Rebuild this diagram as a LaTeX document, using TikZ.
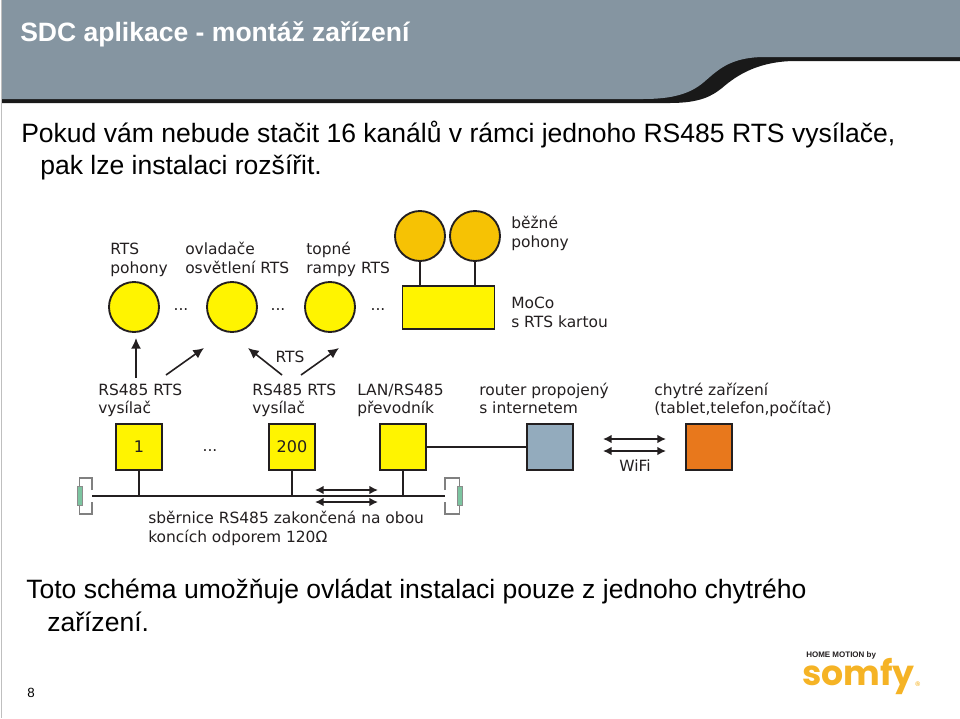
\documentclass[tikz,border=0pt]{standalone}
\usepackage{fontspec}
\setmainfont{Liberation Sans}
\newfontfamily\diafont{DejaVu Sans}
\newfontfamily\logofont{Poppins}
\usetikzlibrary{arrows.meta}
\definecolor{headgray}{HTML}{8595A1}
\definecolor{yel}{HTML}{FFF400}
\definecolor{amber}{HTML}{F6C204}
\definecolor{routerblue}{HTML}{93ABBD}
\definecolor{smartorange}{HTML}{E8781C}
\definecolor{resgreen}{HTML}{7CC4A0}
\definecolor{somfyor}{HTML}{F5B325}
\definecolor{ink}{HTML}{231F20}
\tikzset{
  x=0.75pt,y=-0.75pt,
  lbl/.style={anchor=base west,inner sep=0pt,font=\diafont\fontsize{11.6}{14}\selectfont,text=ink},
  body/.style={anchor=base west,inner sep=0pt,font=\fontsize{19.9}{24}\selectfont,text=black},
  sq/.style={draw=ink,line width=1.2pt,minimum size=34.5pt,inner sep=0pt,font=\diafont\fontsize{12}{14}\selectfont,text=ink},
  motor/.style={circle,draw=ink,line width=1.4pt,minimum size=37.5pt,inner sep=0pt},
  wire/.style={draw=ink,line width=1.2pt},
  gwire/.style={draw=black!50,line width=.8pt},
  arr/.style={draw=ink,line width=1.2pt,-{Latex[length=8pt,width=7.5pt]}},
  darr/.style={draw=ink,line width=1.2pt,{Latex[length=6.5pt,width=6.5pt]}-{Latex[length=6.5pt,width=6.5pt]}},
  res/.style={draw=black!45,fill=resgreen,line width=.4pt,minimum width=3.6pt,minimum height=14pt,inner sep=0pt},
}
\begin{document}
\begin{tikzpicture}
\useasboundingbox (0,0) rectangle (960,718);
% header
\fill[black!90] (2,90) -- (2,103) -- (670,103) .. controls (700,103) and (712,96) .. (722,88)
  .. controls (738,74) and (760,61) .. (796,61) -- (960,61) -- (960,50) -- (700,50) -- cycle;
\fill[headgray] (2,0) -- (960,0) -- (960,57) -- (765,57) .. controls (730,57) and (718,70) .. (704,82)
  .. controls (690,94) and (672,99) .. (643,99) -- (2,99) -- cycle;
\draw[black!25,line width=.6pt] (1.5,0) -- (1.5,718);
\node[anchor=base west,inner sep=0pt,text=white,font=\bfseries\fontsize{19.9}{24}\selectfont] (title) at (20,41) {SDC aplikace - montáž zařízení};
% body text
\node[body] (t1) at (21,142) {Pokud vám nebude stačit 16 kanálů v rámci jednoho RS485 RTS vysílače,};
\node[body] (t2) at (40,174) {pak lze instalaci rozšířit.};
\node[body] (t3) at (26,598) {Toto schéma umožňuje ovládat instalaci pouze z jednoho chytrého};
\node[body] (t4) at (47,631) {zařízení.};
\node[anchor=base west,inner sep=0pt,font=\fontsize{10}{12}\selectfont] (pg) at (27,697) {8};
% motors
\node[motor,fill=yel] (m1) at (134,307) {};
\node[motor,fill=yel] (m2) at (232,307) {};
\node[motor,fill=yel] (m3) at (330,307) {};
\node[motor,fill=amber] (a1) at (420,236) {};
\node[motor,fill=amber] (a2) at (475,236) {};
\node[draw=ink,line width=1.2pt,fill=yel,minimum width=69pt,minimum height=32.25pt,inner sep=0pt] (moco) at (448.5,307.5) {};
\draw[wire] (a1.south) -- (a1.south |- moco.north);
\draw[wire] (a2.south) -- (a2.south |- moco.north);
% top labels
\node[lbl] (l1) at (110,254) {RTS};
\node[lbl] (l2) at (110,273) {pohony};
\node[lbl] (l3) at (185,254) {ovladače};
\node[lbl] (l4) at (185,273) {osvětlení RTS};
\node[lbl] (l5) at (306,254) {topné};
\node[lbl] (l6) at (306,273) {rampy RTS};
\node[lbl] (l7) at (511,228) {běžné};
\node[lbl] (l8) at (511,247) {pohony};
\node[lbl] (l9) at (511,308) {MoCo};
\node[lbl] (l10) at (511,327) {s RTS kartou};
\node[lbl,anchor=base] (d1) at (181,310) {...};
\node[lbl,anchor=base] (d2) at (278,310) {...};
\node[lbl,anchor=base] (d3) at (378,310) {...};
\node[lbl,anchor=base] (d4) at (210,451) {...};
% RTS arrows
\coordinate (s1) at (136,378); \coordinate (e1) at (136,338);
\coordinate (s2) at (166,375); \coordinate (e2) at (204,348);
\coordinate (s3) at (282,375); \coordinate (e3) at (248,348);
\coordinate (s4) at (301,375); \coordinate (e4) at (339,348);
\draw[arr] (s1) -- (e1);
\draw[arr] (s2) -- (e2);
\draw[arr] (s3) -- (e3);
\draw[arr] (s4) -- (e4);
\node[lbl,anchor=base] (rts) at (290,362) {RTS};
% middle labels
\node[lbl] (b1) at (98,395) {RS485 RTS};
\node[lbl] (b2) at (98,413) {vysílač};
\node[lbl] (b3) at (252,395) {RS485 RTS};
\node[lbl] (b4) at (252,413) {vysílač};
\node[lbl] (b5) at (357,395) {LAN/RS485};
\node[lbl] (b6) at (357,413) {převodník};
\node[lbl] (b7) at (479,395) {router propojený};
\node[lbl] (b8) at (479,413) {s internetem};
\node[lbl] (b9) at (654,395) {chytré zařízení};
\node[lbl] (b10) at (654,413) {(tablet,telefon,počítač)};
% boxes
\node[sq,fill=yel] (s01) at (139,447) {\raisebox{-1.5pt}{1}};
\node[sq,fill=yel] (s200) at (292,447) {\raisebox{-1.5pt}{200}};
\node[sq,fill=yel] (lan) at (403,447) {};
\node[sq,fill=routerblue] (router) at (550,447) {};
\node[sq,fill=smartorange] (smart) at (709,447) {};
\draw[wire] (lan.east) -- (router.west);
% bus
\coordinate (busL) at (92,496); \coordinate (busR) at (445,496);
\draw[wire] (busL) -- (busR);
\draw[wire] (s01.south) -- (s01.south |- busL);
\draw[wire] (s200.south) -- (s200.south |- busL);
\draw[wire] (lan.south) -- (lan.south |- busL);
% terminators
\node[res] (rl) at (79.5,496) {};
\node[res] (rr) at (459.5,496) {};
\draw[gwire] (92,490) -- (92,478) -- (rl.center |- 0,478) -- (rl.north);
\draw[gwire] (92,502) -- (92,514) -- (rl.center |- 0,514) -- (rl.south);
\draw[gwire] (445,490) -- (445,478) -- (rr.center |- 0,478) -- (rr.north);
\draw[gwire] (445,502) -- (445,514) -- (rr.center |- 0,514) -- (rr.south);
% bus double arrows
\coordinate (ba1) at (315,490); \coordinate (ba2) at (378,490);
\coordinate (bb1) at (315,502); \coordinate (bb2) at (378,502);
\draw[darr] (ba1) -- (ba2);
\draw[darr] (bb1) -- (bb2);
% wifi arrows
\coordinate (wa1) at (603,439); \coordinate (wa2) at (666,439);
\coordinate (wb1) at (603,451); \coordinate (wb2) at (666,451);
\draw[darr] (wa1) -- (wa2);
\draw[darr] (wb1) -- (wb2);
\node[lbl,anchor=base] (wifi) at (635,471) {WiFi};
\node[lbl] (c1) at (148,523) {sběrnice RS485 zakončená na obou};
\node[lbl] (c2) at (148,542) {koncích odporem 120Ω};
% logo
\node[anchor=base west,inner sep=0pt,text=ink,font=\bfseries\fontsize{6}{7}\selectfont] (hm) at (806,657) {HOME MOTION by};
\node[anchor=base west,inner sep=0pt,text=somfyor,font=\logofont\bfseries\fontsize{26}{30}\selectfont] (somfy) at (802,685) {somfy};
\node[anchor=base west,inner sep=0pt,text=somfyor,font=\bfseries\fontsize{5}{6}\selectfont] (reg) at (915,686) {®};
\end{tikzpicture}
\end{document}
